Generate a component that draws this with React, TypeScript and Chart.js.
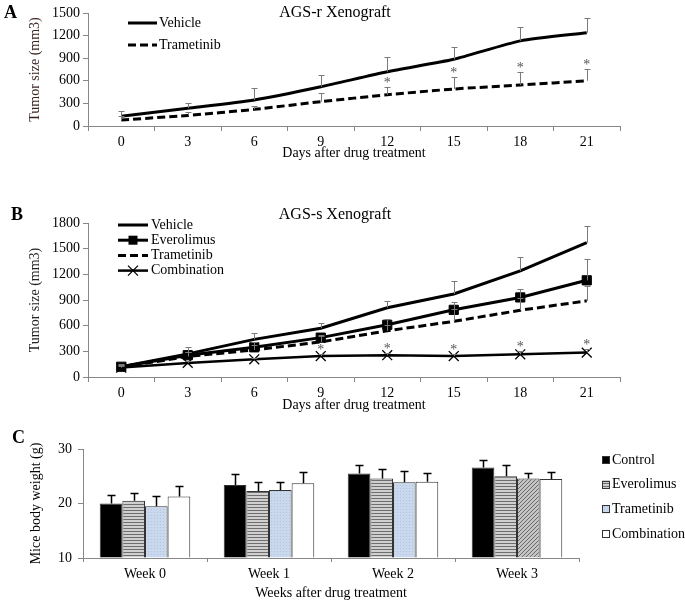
import React, { useEffect, useRef } from 'react';
import { Chart, registerables } from 'chart.js';
Chart.register(...registerables);

// ---------- Panel A data ----------
const days = ['0', '3', '6', '9', '12', '15', '18', '21'];
const vehicleA = [130, 235, 345, 520, 720, 885, 1130, 1238];
const vehicleAErr = [70, 75, 155, 157, 200, 160, 190, 190];
const trametinibA = [80, 140, 221, 323, 415, 491, 544, 601];
const trametinibAErr = [50, 40, 45, 110, 105, 163, 177, 150];
const starsA = [false, false, false, false, true, true, true, true];

// ---------- Panel B data ----------
const vehicleB = [120, 270, 440, 570, 810, 970, 1240, 1570];
const vehicleBErr = [30, 75, 80, 65, 80, 155, 165, 200];
const everolimusB = [120, 255, 347, 460, 610, 785, 930, 1130];
const everolimusBErr = [25, 40, 60, 30, 70, 95, 100, 250];
const trametinibB = [115, 240, 316, 410, 540, 650, 780, 890];
const trametinibBErr = [25, 50, 60, 70, 70, 150, 140, 175];
const combinationB = [110, 165, 207, 245, 255, 245, 265, 285];
const combinationBErr = [15, 20, 20, 25, 25, 25, 40, 45];
const starsB = [false, false, false, true, true, true, true, true];

// ---------- Panel C data ----------
const weeks = ['Week 0', 'Week 1', 'Week 2', 'Week 3'];
const controlC = [20.0, 23.4, 25.5, 26.6];
const controlCErr = [1.5, 2.0, 1.5, 1.4];
const everolimusC = [20.5, 22.3, 24.6, 25.0];
const everolimusCErr = [1.5, 1.7, 1.7, 2.0];
const trametinibC = [19.5, 22.5, 23.9, 24.6];
const trametinibCErr = [1.9, 1.4, 2.0, 1.0];
const combinationC = [21.3, 23.7, 24.0, 24.5];
const combinationCErr = [2.0, 2.0, 1.6, 1.3];

const SERIF = '"Liberation Serif", "Times New Roman", Times, serif';
const AXIS = '#878787';
const W = 685;

// ---------- plugins ----------
const errorBars = {
  id: 'errorBars',
  afterDatasetsDraw(chart: any) {
    const ctx = chart.ctx;
    const yScale = chart.scales.y;
    chart.data.datasets.forEach((ds: any, i: number) => {
      if (!ds.errors) return;
      const meta = chart.getDatasetMeta(i);
      ctx.save();
      meta.data.forEach((el: any, j: number) => {
        const v = ds.data[j];
        const e = ds.errors[j];
        const x = Math.round(el.x) + 0.5;
        const y0 = yScale.getPixelForValue(v);
        const y1 = Math.round(yScale.getPixelForValue(v + e)) + 0.5;
        const cap = ds.errorCap || 3;
        ctx.strokeStyle = ds.errorColor || '#7a7a7a';
        ctx.lineWidth = ds.errorWidth || 1;
        ctx.setLineDash([]);
        ctx.beginPath();
        ctx.moveTo(x, y0);
        ctx.lineTo(x, y1);
        ctx.moveTo(x - cap, y1);
        ctx.lineTo(x + cap, y1);
        ctx.stroke();
        if (ds.stars && ds.stars[j]) {
          ctx.fillStyle = '#555';
          ctx.font = '14px ' + SERIF;
          ctx.textAlign = 'center';
          ctx.textBaseline = 'middle';
          ctx.fillText('*', el.x, y1 - 4);
        }
      });
      ctx.restore();
    });
  },
};

const panelText = {
  id: 'panelText',
  afterDraw(chart: any, _args: any, opts: any) {
    const ctx = chart.ctx;
    (opts.items || []).forEach((t: any) => {
      ctx.save();
      ctx.font = t.font;
      ctx.fillStyle = t.color || '#000';
      ctx.textAlign = t.align || 'left';
      ctx.textBaseline = 'middle';
      ctx.fillText(t.text, t.x, t.y);
      ctx.restore();
    });
  },
};

const lineLegend = {
  id: 'lineLegend',
  afterDraw(chart: any, _args: any, opts: any) {
    if (!opts || opts.x === undefined) return;
    const ctx = chart.ctx;
    chart.data.datasets.forEach((ds: any, i: number) => {
      const y = opts.y + i * opts.pitch;
      ctx.save();
      ctx.strokeStyle = '#000';
      ctx.lineWidth = ds.borderWidth;
      ctx.setLineDash(ds.borderDash || []);
      ctx.beginPath();
      ctx.moveTo(opts.x, y);
      ctx.lineTo(opts.x + opts.len, y);
      ctx.stroke();
      ctx.setLineDash([]);
      const cx = opts.x + opts.len / 2;
      if (ds.pointStyle === 'rect') {
        const s = 9;
        ctx.fillStyle = '#000';
        ctx.fillRect(cx - s / 2, y - s / 2, s, s);
      } else if (ds.pointStyle === 'crossRot') {
        const s = 5;
        ctx.lineWidth = 1.3;
        ctx.beginPath();
        ctx.moveTo(cx - s, y - s);
        ctx.lineTo(cx + s, y + s);
        ctx.moveTo(cx + s, y - s);
        ctx.lineTo(cx - s, y + s);
        ctx.stroke();
      }
      ctx.fillStyle = '#000';
      ctx.font = '14px ' + SERIF;
      ctx.textAlign = 'left';
      ctx.textBaseline = 'middle';
      ctx.fillText(ds.label, opts.x + opts.len + opts.gap, y);
      ctx.restore();
    });
  },
};

const boxLegend = {
  id: 'boxLegend',
  afterDraw(chart: any, _args: any, opts: any) {
    if (!opts || opts.x === undefined) return;
    const ctx = chart.ctx;
    chart.data.datasets.forEach((ds: any, i: number) => {
      const y = opts.y + i * opts.pitch;
      const s = opts.size;
      ctx.save();
      ctx.fillStyle = opts.fills[i];
      ctx.fillRect(opts.x, y - s / 2, s, s);
      ctx.strokeStyle = '#333';
      ctx.lineWidth = 1;
      ctx.strokeRect(opts.x + 0.5, Math.round(y - s / 2) + 0.5, s - 1, s - 1);
      ctx.fillStyle = '#000';
      ctx.font = '14px ' + SERIF;
      ctx.textAlign = 'left';
      ctx.textBaseline = 'middle';
      ctx.fillText(ds.label, opts.x + s + opts.gap, y);
      ctx.restore();
    });
  },
};

function makePattern(w: number, h: number, draw: (g: CanvasRenderingContext2D) => void) {
  const c = document.createElement('canvas');
  c.width = w;
  c.height = h;
  const g = c.getContext('2d')!;
  draw(g);
  return g.createPattern(c, 'repeat')!;
}

const plainNumber = (v: any) => String(v);

function lineScales(yMax: number, xHeight: number, xTitlePad: number, yTitleColor: string) {
  return {
    x: {
      type: 'category',
      offset: true,
      grid: { drawOnChartArea: false, drawTicks: true, tickLength: 5, offset: true, color: AXIS, lineWidth: 1 },
      border: { display: true, color: AXIS, width: 1 },
      ticks: { color: '#000', font: { family: SERIF, size: 14 }, padding: 3, maxRotation: 0, autoSkip: false },
      title: {
        display: true,
        text: 'Days after drug treatment',
        color: '#000',
        font: { family: SERIF, size: 14 },
        padding: { top: 0, bottom: xTitlePad },
      },
      afterFit: (s: any) => { s.height = xHeight; },
    },
    y: {
      min: 0,
      max: yMax,
      grid: { drawOnChartArea: false, drawTicks: true, tickLength: 5, color: AXIS },
      border: { display: true, color: AXIS, width: 1 },
      ticks: { stepSize: 300, color: '#000', font: { family: SERIF, size: 14 }, padding: 3, callback: plainNumber },
      title: {
        display: true,
        text: 'Tumor size (mm3)',
        color: yTitleColor,
        font: { family: SERIF, size: 14 },
        padding: { top: 26.6, bottom: 0 },
      },
      afterFit: (s: any) => { s.width = 88; },
    },
  };
}

export default function App() {
  const refA = useRef<HTMLCanvasElement>(null);
  const refB = useRef<HTMLCanvasElement>(null);
  const refC = useRef<HTMLCanvasElement>(null);

  useEffect(() => {
    const stripes = makePattern(3, 3, (g) => {
      g.fillStyle = '#cfcfcf'; g.fillRect(0, 0, 3, 3);
      g.fillStyle = '#6e6e6e'; g.fillRect(0, 2, 3, 1);
    });
    const dots = makePattern(3, 3, (g) => {
      g.fillStyle = '#c9d8ec'; g.fillRect(0, 0, 3, 3);
      g.fillStyle = '#b3c4dc'; g.fillRect(1, 1, 1, 1);
    });
    const hatch = makePattern(4, 4, (g) => {
      g.fillStyle = '#c4c4c4'; g.fillRect(0, 0, 4, 4);
      g.fillStyle = '#6a6a6a';
      g.fillRect(3, 0, 1, 1); g.fillRect(2, 1, 1, 1); g.fillRect(1, 2, 1, 1); g.fillRect(0, 3, 1, 1);
    });

    const common = { responsive: false, animation: false as const, events: [] as any[] };

    const chartA = new Chart(refA.current!, {
      type: 'line',
      data: {
        labels: days,
        datasets: [
          { label: 'Vehicle', data: vehicleA, borderColor: '#000', borderWidth: 3, pointRadius: 0, tension: 0.2, errors: vehicleAErr, errorCap: 3 } as any,
          { label: 'Trametinib', data: trametinibA, borderColor: '#000', borderWidth: 3, borderDash: [8, 4], pointRadius: 0, tension: 0.2, errors: trametinibAErr, stars: starsA, errorCap: 3 } as any,
        ],
      },
      options: {
        ...common,
        layout: { padding: { left: 0, top: 13, right: W - 620, bottom: 0 } },
        scales: lineScales(1500, 39, 3.6, '#3a2424') as any,
        plugins: {
          legend: { display: false },
          tooltip: { enabled: false },
          lineLegend: { x: 128, y: 23, pitch: 22, len: 29, gap: 2 },
          panelText: {
            items: [
              { text: 'A', x: 4, y: 13, font: 'bold 18px ' + SERIF },
              { text: 'AGS-r Xenograft', x: 335, y: 13, font: '16px ' + SERIF, align: 'center' },
            ],
          },
        } as any,
      },
      plugins: [errorBars, lineLegend, panelText],
    });

    const chartB = new Chart(refB.current!, {
      type: 'line',
      data: {
        labels: days,
        datasets: [
          { label: 'Vehicle', data: vehicleB, borderColor: '#000', borderWidth: 3, pointRadius: 0, tension: 0, errors: vehicleBErr, errorCap: 3 } as any,
          { label: 'Everolimus', data: everolimusB, borderColor: '#000', borderWidth: 3, pointStyle: 'rect', pointRadius: 6.5, pointBorderWidth: 1, pointBackgroundColor: '#000', pointBorderColor: '#000', tension: 0, errors: everolimusBErr, errorCap: 3 } as any,
          { label: 'Trametinib', data: trametinibB, borderColor: '#000', borderWidth: 3, borderDash: [8, 4], pointRadius: 0, tension: 0, errors: trametinibBErr, errorCap: 3 } as any,
          { label: 'Combination', data: combinationB, borderColor: '#000', borderWidth: 2.5, pointStyle: 'crossRot', pointRadius: 7, pointBorderWidth: 1.3, pointBorderColor: '#000', tension: 0, errors: combinationBErr, stars: starsB, errorCap: 3 } as any,
        ],
      },
      options: {
        ...common,
        layout: { padding: { left: 0, top: 58, right: W - 620, bottom: 0 } },
        scales: lineScales(1800, 38, 1.6, '#222') as any,
        plugins: {
          legend: { display: false },
          tooltip: { enabled: false },
          lineLegend: { x: 118, y: 60, pitch: 15.2, len: 30, gap: 3 },
          panelText: {
            items: [
              { text: 'B', x: 11, y: 50, font: 'bold 18px ' + SERIF },
              { text: 'AGS-s Xenograft', x: 335, y: 50, font: '16px ' + SERIF, align: 'center' },
            ],
          },
        } as any,
      },
      plugins: [errorBars, lineLegend, panelText],
    });

    const barDs = { base: 10, borderColor: '#333', borderWidth: 1, categoryPercentage: 0.73, barPercentage: 1.0, errorColor: '#000', errorWidth: 1.5, errorCap: 4 };
    const chartC = new Chart(refC.current!, {
      type: 'bar',
      data: {
        labels: weeks,
        datasets: [
          { ...barDs, label: 'Control', data: controlC, backgroundColor: '#000', errors: controlCErr } as any,
          { ...barDs, label: 'Everolimus', data: everolimusC, backgroundColor: stripes, errors: everolimusCErr } as any,
          { ...barDs, label: 'Trametinib', data: trametinibC, backgroundColor: (c: any) => (c.dataIndex === 3 ? hatch : dots), errors: trametinibCErr } as any,
          { ...barDs, label: 'Combination', data: combinationC, backgroundColor: '#fff', errors: combinationCErr } as any,
        ],
      },
      options: {
        ...common,
        layout: { padding: { left: 0, top: 34, right: W - 579, bottom: 0 } },
        scales: {
          x: {
            type: 'category',
            offset: true,
            grid: { drawOnChartArea: false, drawTicks: true, tickLength: 4, offset: true, color: AXIS },
            border: { display: true, color: AXIS, width: 1 },
            ticks: { color: '#000', font: { family: SERIF, size: 14 }, padding: 4, maxRotation: 0 },
            title: {
              display: true,
              text: 'Weeks after drug treatment',
              color: '#000',
              font: { family: SERIF, size: 14 },
              padding: { top: 0, bottom: 1.6 },
            },
            afterFit: (s: any) => { s.height = 45; },
          },
          y: {
            min: 10,
            max: 30,
            grid: { drawOnChartArea: false, drawTicks: true, tickLength: 5, color: AXIS },
            border: { display: true, color: AXIS, width: 1 },
            ticks: { stepSize: 10, color: '#000', font: { family: SERIF, size: 14 }, padding: 6, callback: plainNumber },
            title: {
              display: true,
              text: 'Mice body weight (g)',
              color: '#000',
              font: { family: SERIF, size: 14 },
              padding: { top: 27.6, bottom: 0 },
            },
            afterFit: (s: any) => { s.width = 83; },
          },
        } as any,
        plugins: {
          legend: { display: false },
          tooltip: { enabled: false },
          boxLegend: { x: 602, y: 45, pitch: 24.7, size: 8, gap: 2, fills: ['#000', stripes, dots, '#fff'] },
          panelText: {
            items: [{ text: 'C', x: 12, y: 23, font: 'bold 18px ' + SERIF }],
          },
        } as any,
      },
      plugins: [errorBars, boxLegend, panelText],
    });

    return () => {
      chartA.destroy();
      chartB.destroy();
      chartC.destroy();
    };
  }, []);

  return (
    <div style={{ position: 'absolute', left: 0, top: 0, width: W, height: 603, background: '#fff' }}>
      <canvas ref={refA} width={W} height={165} style={{ position: 'absolute', left: 0, top: 0, display: 'block' }} />
      <canvas ref={refB} width={W} height={250} style={{ position: 'absolute', left: 0, top: 165, display: 'block' }} />
      <canvas ref={refC} width={W} height={188} style={{ position: 'absolute', left: 0, top: 415, display: 'block' }} />
    </div>
  );
}
